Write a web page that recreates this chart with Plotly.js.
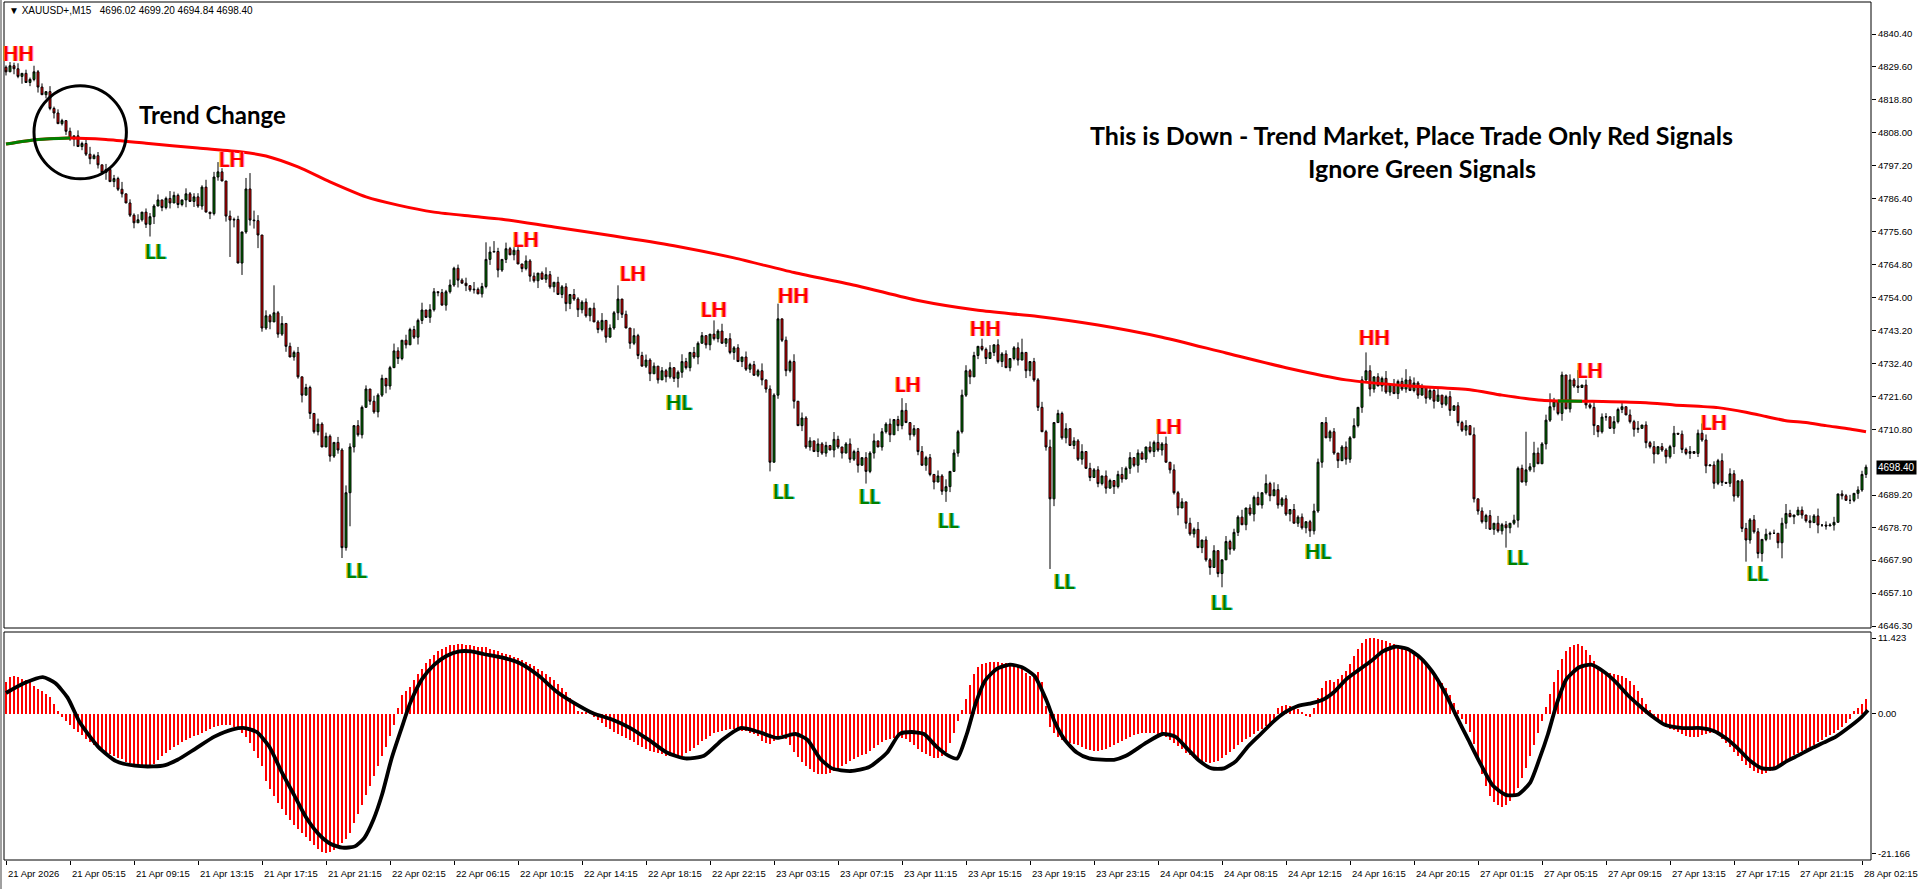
<!DOCTYPE html>
<html><head><meta charset="utf-8">
<script src="https://cdn.plot.ly/plotly-3.0.1.min.js"></script>
<style>html,body{margin:0;padding:0;background:#fff;overflow:hidden}#chart{width:1919px;height:889px}</style>
</head><body><div id="chart"></div>
<script>
// ---------------- DATA ----------------
const symbolHeader = "\u25BC XAUUSD+,M15\u00a0\u00a0 4696.02 4699.20 4694.84 4698.40";
const firstOpen = 4829.5;
const closes = [
4828.0,4830.0,4829.0,4826.5,4827.5,4824.5,4825.5,4828.0,4823.0,4820.5,
4821.5,4816.0,4814.5,4811.0,4812.0,4808.5,4806.0,4807.0,4803.5,4804.5,
4801.0,4799.5,4800.5,4797.5,4795.0,4796.0,4792.0,4793.0,4789.5,4788.0,
4785.0,4781.0,4778.5,4779.5,4782.0,4778.0,4780.5,4784.0,4786.0,4783.5,
4786.5,4785.0,4787.5,4784.5,4786.0,4788.0,4785.5,4787.0,4784.0,4790.2,
4782.0,4781.5,4793.5,4795.2,4792.2,4780.7,4779.4,4779.6,4765.3,4775.5,
4789.6,4779.4,4779.2,4774.5,4744.0,4748.0,4746.0,4749.0,4742.0,4745.5,
4738.0,4734.5,4736.0,4728.0,4722.0,4724.5,4716.0,4710.0,4712.5,4705.0,
4708.5,4702.0,4706.5,4704.0,4672.0,4690.0,4705.0,4712.0,4709.0,4718.0,
4724.0,4720.0,4716.5,4722.0,4727.5,4725.0,4731.0,4736.5,4734.0,4740.0,
4738.5,
4743.5,4741.0,4746.5,4749.9,4747.5,4750.0,4755.9,4755.6,4751.5,4755.9,
4758.1,4763.6,4759.7,4758.7,4757.9,4756.5,4756.7,4755.2,4757.6,4766.5,
4768.9,4769.1,4763.0,4766.5,4770.0,4768.0,4769.5,4765.0,4763.5,4766.0,
4761.0,4759.5,4762.0,4760.0,4761.5,4757.5,4759.0,4755.0,4757.5,4752.0,
4755.0,4753.5,4750.0,4752.5,4748.0,4750.5,4746.0,4743.5,4746.5,4741.0,
4744.0,4749.0,4753.5,4748.5,4744.0,4739.0,4741.5,4735.0,4731.5,4733.5,
4729.0,4731.5,4727.0,4730.0,4728.0,4731.0,4727.5,4729.5,4733.0,4731.0,
4736.0,4734.5,4739.0,4741.5,4738.5,4742.0,4740.5,4743.0,4739.0,4740.5,
4736.0,4737.5,4733.0,4734.5,4730.5,4732.0,4728.5,4730.0,4727.0,4724.0,
4700.0,4722.0,4747.0,4740.0,4730.0,4733.0,4720.0,4712.0,4714.5,4705.0,
4707.0,4703.5,4706.0,4703.0,4705.5,4704.0,4707.5,4705.0,4703.0,4706.0,
4701.0,4703.5,4699.0,4701.5,4697.0,4703.0,4707.0,4705.0,4710.0,4712.5,
4709.0,4714.0,4712.0,4717.0,4713.0,4709.0,4711.0,4703.5,4699.0,4701.5,
4696.0,4693.5,4695.5,4690.5,4692.0,4697.0,4703.0,4710.0,4722.0,4730.0,
4728.0,4735.0,4738.0,4737.0,4734.0,4736.0,4738.5,4733.0,4735.5,4731.0,
4734.0,4737.5,4733.5,4736.0,4730.0,4733.0,4727.0,4718.0,4710.0,4705.0,
4688.0,4713.0,4716.0,4708.0,4711.0,4705.5,4707.0,4701.0,4703.5,4698.0,
4695.0,4697.5,4693.0,4695.5,4691.5,4694.0,4692.0,4696.0,4694.5,4698.0,
4701.5,4699.0,4703.0,4701.0,4705.0,4703.5,4706.5,4704.0,4706.0,4700.0,
4697.5,4690.0,4685.0,4687.0,4680.0,4676.5,4678.0,4672.0,4674.5,4668.0,
4665.5,
4671.0,4663.5,4668.0,4674.0,4671.5,4677.0,4682.0,4679.5,4685.0,4683.0,
4688.5,4686.0,4690.0,4693.0,4689.0,4691.0,4686.0,4688.0,4683.0,4684.5,
4680.0,4682.0,4678.5,4680.5,4677.5,4684.0,4700.0,4713.0,4708.0,4710.0,
4703.0,4700.5,4705.0,4701.0,4708.0,4712.0,4718.0,4727.0,4730.0,4724.0,
4728.0,4725.0,4727.5,4723.0,4725.5,4722.5,4726.5,4724.0,4727.0,4723.5,
4726.0,4722.0,4724.5,4721.0,4723.5,4720.0,4722.0,4719.0,4721.5,4717.0,
4718.5,4713.0,4710.5,4712.0,4709.0,4688.0,4684.0,4680.5,4682.5,4678.0,
4680.0,4677.5,4679.5,4678.5,4680.0,4681.0,4698.0,4693.5,4697.5,4698.5,
4703.0,4699.5,4706.0,4713.8,4718.2,4719.9,4716.0,4728.6,4717.5,4727.0,
4725.0,4724.5,4725.3,4718.8,4718.0,4712.0,4710.0,4714.8,4714.9,4711.1,
4713.3,4717.3,4718.2,4715.5,4713.3,4710.8,4711.1,4712.2,4706.4,4705.1,
4702.7,4705.1,4704.0,4701.8,4705.1,4709.5,4709.2,4704.2,4702.9,4703.5,
4702.9,4709.5,4707.3,4698.8,4699.1,4693.1,4700.5,4693.4,4693.1,4696.2,
4688.9,4693.9,4678.3,4674.5,4681.1,4677.2,4670.1,4674.7,4676.4,4676.7,
4676.7,4673.6,4680.0,4683.2,4682.1,4682.7,4684.3,4682.7,4680.8,4680.2,
4682.4,4679.4,4679.4,4679.1,4679.4,4680.3,4689.6,4689.0,4687.5,4687.5,
4689.8,4690.9,4696.0,4698.4];

// wick sizes per bar, one digit per bar, in units of 0.6 price
const wickUp = "1213021412031210 2031241203121402 1302213014210312 2140312031201423 0312140213021031 2103142031203120 1420312140320213 0213041203120314 2031201420312031 1203140213020412 3120213014203120 0214031203121402 1302140312031204 2013120314021302 1402031203140213 3120214031201320 0213140213021403 1203102413021031 2140312031402130 0312140213021431 2031201420312013 1402130214031202 3120214013021304 0213041203120213 1302140312031402 2031203140213021 1402130213021403 2013142031203120 1203140213021302 21";
const wickDn = "2031402130213012 1402130214031201 3012140213021403 1203120314021302 2140213021403120 0312140312021314 2031201420312031 1403120213041203 0213140213020314 2130213014203120 1402031203121402 3120214031201320 0213140312031204 1302140213021403 2031203140213021 1402130213021304 3120214013021302 0213041203140213 1302140312031402 2031203140213021 1402130213021403 2013142031203120 1203140213021302 2140312031402130 0312140213021431 2031201420312013 1402130214031202 3120214013021304 0213041203120213 12";
const wickUnit = 0.6;
// notable highs / lows read directly
const hiBar = [2,7,52,53,60,61,62,67,112,120,122,125,127,153,177,193,224,244,254,288,315,340,350,380,382,386,389,393,424,437,445,448,465];
const hiVal = [4831.0,4830.0,4795.2,4798.4,4793.2,4794.8,4782.5,4758.0,4764.1,4772.1,4772.5,4772.0,4770.5,4758.0,4746.5,4752.0,4721.0,4740.5,4740.5,4709.5,4696.0,4736.0,4730.5,4710.0,4706.7,4722.6,4729.7,4730.2,4712.7,4682.7,4686.3,4685.4,4699.2];
const loBar = [36,56,59,62,63,84,85,86,140,168,191,215,235,261,304,326,375,397,412,415,435,438,439,443,444,453,458,465];
const loVal = [4774.0,4767.3,4761.4,4776.6,4770.2,4668.6,4671.0,4679.0,4749.5,4724.5,4697.0,4693.0,4687.0,4665.0,4659.0,4675.5,4672.0,4708.9,4699.6,4699.6,4667.4,4668.5,4667.4,4671.8,4668.5,4676.7,4682.0,4694.84];

// moving average (sampled along the curve)
const maBar = [0,8,16,25,35,48,59,65,73,81,90,98,107,116,124,137,152,167,182,197,213,228,243,258,273,289,305,320,335,351,366,374,384,388,394,399,410,417,428,435,440,445,450,455,461,465];
const maVal = [4804.3,4805.8,4806.3,4805.8,4804.6,4803.0,4801.7,4800.4,4796.8,4791.9,4787.0,4784.3,4782.0,4780.7,4779.7,4777.1,4774.2,4771.0,4767.0,4762.2,4757.8,4753.0,4749.8,4747.8,4745.0,4741.0,4735.8,4731.0,4727.0,4725.0,4723.8,4722.0,4720.3,4720.1,4720.0,4719.9,4719.5,4718.8,4717.9,4716.4,4715.0,4713.6,4713.0,4712.0,4710.9,4710.0];
const maGreenRanges = [[0,16],[388,394]];

// MACD histogram, one value per bar
const macdHist = [
4.7,5.5,5.7,5.5,5.2,5.1,4.7,4.1,3.7,3.4,3.0,2.45,1.5,0.4,
-0.6,-1.2,-1.8,-2.3,-2.8,-3.3,-3.8,-4.3,-4.7,-5.1,-5.5,-5.8,-6.1,-6.4,-6.7,-6.9,
-7.3,-7.5,-7.7,-7.9,-8.0,-8.0,-7.9,-7.6,-7.0,-6.4,-5.9,-5.5,-5.1,-4.7,-4.3,-4.0,
-3.7,-3.4,-3.2,-2.9,-2.6,-2.4,-2.1,-1.9,-1.8,-1.7,-1.8,-2.0,-2.3,-2.9,-3.6,-4.4,
-5.6,-6.8,-8.0,-10.2,-11.4,-12.5,-13.5,-14.4,-15.3,-16.1,-16.8,-17.5,-18.1,-18.7,-19.3,-19.9,
-20.5,-20.9,-21.166,-21.0,-20.7,-20.2,-19.6,-19.0,-18.0,-16.6,-15.2,-13.8,-12.4,-11.0,-9.5,-8.0,
-6.5,-5.0,-3.4,-1.8,0.9,2.8,
3.4,
4.0,5.1,6.0,6.8,7.6,8.3,8.9,9.4,9.8,10.1,10.3,10.4,10.5,10.5,10.4,10.3,10.2,10.1,10.0,10.0,
9.8,9.6,9.4,9.2,9.0,8.8,8.6,8.4,8.1,7.8,7.5,7.2,6.8,6.4,6.0,5.5,5.0,4.5,3.9,3.2,2.4,1.5,0.4,0.3,0.3,0.2,
-0.6,-1.0,-1.5,-2.0,-2.4,-2.8,-3.1,-3.4,-3.7,-4.0,-4.3,-4.7,-5.0,-5.3,-5.6,-5.8,-6.0,-6.2,-6.4,-6.5,
-6.6,-6.6,-6.4,-6.0,-5.6,-5.2,-4.7,-4.2,-3.8,-3.4,-3.0,-2.8,-2.6,-2.5,-2.4,-2.4,-2.5,-2.6,-2.7,-2.9,
-3.1,-3.4,-4.2,-4.5,-4.6,-4.2,-3.4,-3.2,-3.8,-4.8,-5.8,-6.6,-7.3,-7.9,-8.4,-8.8,-9.1,-9.2,-9.2,-9.0,
-8.7,-8.4,-8.0,-7.6,-7.2,-6.9,-6.6,-6.3,-6.1,-5.7,-5.2,-4.7,-4.3,-4.0,-3.8,-3.7,-3.6,-3.7,-3.9,-4.3,
-4.8,-5.3,-5.8,-6.2,-6.5,-6.7,-6.8,-6.5,-5.8,-4.5,-3.0,-1.2,
0.5,2.2,4.3,6.0,7.0,7.5,7.7,7.8,7.8,7.8,7.7,7.6,7.5,7.4,7.3,7.0,6.2,5.6,5.9,6.3,4.8,1.2,
-2.0,-3.0,-3.6,-4.0,-4.3,-4.5,-4.6,-4.8,-5.0,-5.3,-5.5,-5.6,-5.6,-5.5,-5.3,-5.0,-4.8,-4.5,-4.1,-3.8,
-3.5,-3.3,-3.1,-3.0,-2.9,-2.9,-3.0,-3.1,-3.3,-3.6,-4.0,-4.4,-4.9,-5.4,-5.9,-6.3,-6.7,-7.0,-7.2,-7.4,
-7.5,
-7.4,-7.2,-6.8,-6.3,-5.8,-5.3,-4.8,-4.3,-3.9,-3.5,-3.1,-2.7,-2.3,-1.9,-1.4,-0.9,
0.9,1.2,1.3,1.2,1.0,0.7,0.3,-0.4,-0.6,0.8,2.3,3.8,4.9,5.1,4.8,5.2,5.8,6.4,7.5,8.7,
9.8,10.6,11.2,11.423,11.4,11.3,11.1,10.9,10.7,10.5,10.2,9.9,9.6,9.3,8.9,8.5,8.0,7.4,6.8,6.1,
5.3,4.6,3.8,2.8,1.6,0.5,
-0.8,-1.6,-2.8,-4.6,-7.0,-9.2,-11.0,-12.5,-13.4,-13.9,-14.1,-13.9,-13.3,-12.4,-11.2,-9.8,-8.2,-6.5,-4.8,-3.0,-1.2,
1.0,2.9,4.7,6.6,8.2,9.4,10.1,10.4,10.5,10.2,9.6,8.8,7.9,7.1,6.6,6.3,6.2,6.0,5.9,5.7,5.4,4.9,4.3,3.4,2.4,1.4,0.6,
-0.6,-1.1,-1.6,-2.0,-2.3,-2.5,-2.8,-3.1,-3.4,-3.6,-3.6,-3.5,-3.3,-3.1,-3.0,-3.0,-3.3,-3.8,-4.4,-5.1,
-5.8,-6.5,-7.2,-7.8,-8.3,-8.7,-9.0,-9.1,-9.0,-8.7,-8.4,-8.0,-7.5,-7.1,-6.7,-6.3,-6.0,-5.6,-5.3,-5.0,
-4.7,-4.3,-4.0,-3.6,-3.3,-2.9,-2.5,-2.0,-1.5,-0.9,
0.4,0.9,1.5,2.2];

// MACD signal line (sampled along the curve)
const sigBar = [0,4.6,9.2,12.3,15.4,18.4,23.0,27.5,32.2,36.8,39.8,42.9,47.4,52.1,56.7,59.7,62.7,65.8,68.8,72.0,75.0,78.1,81.1,84.1,87.2,89.6,91.9,94.0,96.4,98.9,101.0,104.0,107.1,110.1,113.3,116.3,119.4,123.9,128.5,133.2,137.7,142.3,146.9,151.5,156.1,160.7,165.2,169.8,174.5,179.0,183.6,188.2,192.8,197.4,200.4,203.5,206.5,211.2,215.8,220.3,223.4,226.4,229.5,232.6,235.7,237.8,240.2,242.4,244.8,247.8,251.0,254.0,257.1,260.1,262.2,264.7,267.7,270.8,277.0,280.0,284.6,289.1,292.3,295.3,298.4,301.4,304.5,307.5,310.5,313.7,316.7,319.8,322.8,325.9,328.9,332.1,335.1,338.2,341.2,344.2,347.3,350.3,353.5,356.5,359.6,362.6,365.6,368.7,371.7,374.9,377.9,381.0,383.4,385.5,387.7,390.1,393.3,396.3,399.3,402.4,405.4,408.5,411.5,414.7,419.2,423.8,426.8,429.9,433.0,436.1,439.1,442.2,445.2,448.2,451.3,454.4,457.5,460.5,463.6,465.5];
const sigVal = [3.1,4.6,5.5,4.6,2.4,-1.3,-5.0,-7.2,-7.9,-8.0,-7.8,-7.0,-5.3,-3.5,-2.4,-2.2,-2.8,-5.0,-8.7,-12.3,-15.7,-18.2,-19.7,-20.3,-20.1,-18.8,-16.0,-12.3,-6.8,-2.2,1.5,5.2,7.4,8.7,9.4,9.4,9.0,8.5,7.6,5.7,3.3,1.5,0.0,-0.9,-2.2,-4.0,-5.9,-6.8,-6.4,-4.0,-2.2,-2.8,-3.7,-3.1,-4.0,-6.8,-8.3,-8.7,-8.1,-5.9,-3.1,-2.8,-3.1,-5.0,-6.4,-6.8,-3.1,1.5,5.0,6.8,7.4,7.0,5.7,2.0,-1.3,-4.0,-5.9,-6.8,-7.0,-6.4,-4.6,-3.1,-3.5,-5.3,-7.2,-8.3,-8.3,-7.2,-5.0,-3.1,-1.3,0.2,1.1,1.5,2.0,3.3,5.2,6.6,7.9,9.4,10.1,9.8,8.5,6.4,3.3,-0.4,-4.0,-7.7,-10.9,-12.3,-12.3,-10.5,-6.8,-3.1,1.5,5.2,7.0,7.4,6.4,4.8,2.8,1.1,-0.4,-1.7,-2.2,-2.2,-2.6,-3.7,-5.3,-7.2,-8.3,-8.3,-7.2,-6.3,-5.3,-4.4,-3.5,-2.2,-0.7,0.5];

// axis labels (4700.00 is hidden under the live-price box in the reference)
const priceTickText = ["4840.40","4829.60","4818.80","4808.00","4797.20","4786.40","4775.60","4764.80","4754.00","4743.20","4732.40","4721.60","4710.80","4689.20","4678.70","4667.90","4657.10","4646.30"];
const macdTickText = ["11.423","0.00","-21.166"];
const lastPrice = "4698.40";
const barsPerLabel = 16; // 4 hours of M15 bars
const timeLabels = ["21 Apr 2026","21 Apr 05:15","21 Apr 09:15","21 Apr 13:15","21 Apr 17:15","21 Apr 21:15","22 Apr 02:15","22 Apr 06:15","22 Apr 10:15","22 Apr 14:15","22 Apr 18:15","22 Apr 22:15","23 Apr 03:15","23 Apr 07:15","23 Apr 11:15","23 Apr 15:15","23 Apr 19:15","23 Apr 23:15","24 Apr 04:15","24 Apr 08:15","24 Apr 12:15","24 Apr 16:15","24 Apr 20:15","27 Apr 01:15","27 Apr 05:15","27 Apr 09:15","27 Apr 13:15","27 Apr 17:15","27 Apr 21:15","28 Apr 02:15"];

// swing labels
const swingText = ["HH","LH","LL","LL","LH","LH","HL","LH","HH","LL","LL","LH","LL","HH","LL","LH","LL","HL","HH","LL","LH","LH","LL"];
const swingBar  = [3.1,56.6,37.4,87.6,130.1,156.7,168.3,176.9,196.8,194.3,215.8,225.5,235.6,244.8,264.7,290.7,303.9,328.0,342.1,377.9,396.0,427.0,437.8];
const swingPrice= [4834.3,4799.4,4769.3,4664.7,4773.3,4762.1,4719.9,4750.4,4754.8,4690.6,4689.0,4725.5,4681.0,4744.0,4660.9,4711.9,4654.1,4670.9,4741.2,4668.8,4730.4,4713.3,4663.7];

const noteTrend = "Trend Change";
const noteLine1 = "This is Down - Trend Market, Place Trade Only Red Signals";
const noteLine2 = "Ignore Green Signals";
const circleBars = [7.0, 30.1];
const circlePrices = [4792.9, 4823.4];

// ---------------- BUILD ----------------
const n = closes.length;
const idx = closes.map((_, i) => i);
const opens = closes.map((c, i) => i === 0 ? firstOpen : closes[i - 1]);
const up = wickUp.replace(/\s/g, '').split('').map(Number);
const dn = wickDn.replace(/\s/g, '').split('').map(Number);
const highs = closes.map((c, i) => Math.max(c, opens[i]) + (up[i] || 0) * wickUnit);
const lows = closes.map((c, i) => Math.min(c, opens[i]) - (dn[i] || 0) * wickUnit);
hiBar.forEach((b, k) => { highs[b] = Math.max(hiVal[k], closes[b], opens[b]); });
loBar.forEach((b, k) => { lows[b] = Math.min(loVal[k], closes[b], opens[b]); });

const priceTicks = priceTickText.map(parseFloat);
const macdTicks = macdTickText.map(parseFloat);

const traces = [];
traces.push({
  type: 'candlestick', x: idx, open: opens, high: highs, low: lows, close: closes,
  increasing: {line: {color: '#000000', width: 1}, fillcolor: '#008000'},
  decreasing: {line: {color: '#000000', width: 1}, fillcolor: '#FF0000'},
  whiskerwidth: 0, hoverinfo: 'skip', xaxis: 'x', yaxis: 'y', showlegend: false
});
traces.push({
  type: 'scatter', mode: 'lines', x: maBar, y: maVal,
  line: {color: '#FF0000', width: 3, shape: 'spline', smoothing: 0.7},
  hoverinfo: 'skip', xaxis: 'x', yaxis: 'y', showlegend: false
});
maGreenRanges.forEach(([a, b]) => {
  const xs = [], ys = [];
  maBar.forEach((bb, k) => { if (bb >= a && bb <= b) { xs.push(bb); ys.push(maVal[k]); } });
  traces.push({
    type: 'scatter', mode: 'lines', x: xs, y: ys,
    line: {color: '#008000', width: 3, shape: 'spline', smoothing: 0.7},
    hoverinfo: 'skip', xaxis: 'x', yaxis: 'y', showlegend: false
  });
});
traces.push({
  type: 'bar', x: idx, y: macdHist, width: 0.68,
  marker: {color: '#FF0000', line: {width: 0}},
  hoverinfo: 'skip', xaxis: 'x', yaxis: 'y2', showlegend: false
});
traces.push({
  type: 'scatter', mode: 'lines', x: sigBar, y: sigVal,
  line: {color: '#000000', width: 3.8, shape: 'spline', smoothing: 0.6},
  hoverinfo: 'skip', xaxis: 'x', yaxis: 'y2', showlegend: false
});

// pixel geometry of the MT4 window
const W = 1919, H = 889, L = 4, R = 48, T = 2, B = 29;
const plotW = W - L - R, plotH = H - T - B;
const px = ox => (ox - L) / plotW;
const py = oy => (H - B - oy) / plotH;
const mainBottom = py(628), macdTop = py(632);

const annotations = [];
annotations.push({xref: 'paper', yref: 'paper', x: px(7), y: py(10), xanchor: 'left', yanchor: 'middle',
  text: symbolHeader, showarrow: false, font: {family: 'Liberation Sans, Arial, sans-serif', size: 10, color: '#000'}});
annotations.push({xref: 'paper', yref: 'paper', x: px(137), y: py(114), xanchor: 'left', yanchor: 'middle',
  text: '<b>' + noteTrend + '</b>', showarrow: false, font: {family: 'Lato, sans-serif', size: 24, color: '#000'}});
annotations.push({xref: 'paper', yref: 'paper', x: px(1411), y: py(135), xanchor: 'center', yanchor: 'middle',
  text: '<b>' + noteLine1 + '</b>', showarrow: false, font: {family: 'Lato, sans-serif', size: 25, color: '#000'}});
annotations.push({xref: 'paper', yref: 'paper', x: px(1422), y: py(168), xanchor: 'center', yanchor: 'middle',
  text: '<b>' + noteLine2 + '</b>', showarrow: false, font: {family: 'Lato, sans-serif', size: 25, color: '#000'}});

swingText.forEach((t, k) => {
  const isHigh = t.endsWith('H');
  const main = isHigh ? '#FF0000' : '#008000';
  const left = isHigh ? '#FF9A30' : '#D8B000';
  const right = isHigh ? '#FF8FC8' : '#30D8E8';
  [[left, -1], [right, 1], [main, 0]].forEach(([c, s]) => {
    annotations.push({xref: 'x', yref: 'y', x: swingBar[k], y: swingPrice[k], xshift: s,
      xanchor: 'center', yanchor: 'middle', text: '<b>' + t + '</b>', showarrow: false,
      font: {family: 'Lato, sans-serif', size: 20, color: c}});
  });
});

timeLabels.forEach((t, k) => {
  annotations.push({xref: 'x', yref: 'paper', x: k * barsPerLabel, y: py(873), xshift: 0,
    xanchor: 'left', yanchor: 'middle', text: t, showarrow: false,
    font: {family: 'Liberation Sans, Arial, sans-serif', size: 9.5, color: '#000'}});
});

annotations.push({xref: 'paper', yref: 'y', x: px(1876), y: parseFloat(lastPrice), xanchor: 'left', yanchor: 'middle',
  text: lastPrice, showarrow: false, bgcolor: '#000000', borderpad: 1,
  font: {family: 'Liberation Sans, Arial, sans-serif', size: 10, color: '#FFFFFF'}});

const shapes = [
  {type: 'rect', xref: 'paper', yref: 'paper', x0: 0, x1: 1, y0: mainBottom, y1: 1, line: {color: '#000', width: 1}},
  {type: 'rect', xref: 'paper', yref: 'paper', x0: 0, x1: 1, y0: 0, y1: macdTop, line: {color: '#000', width: 1}},
  {type: 'line', xref: 'paper', yref: 'paper', x0: px(1), x1: px(1), y0: py(0), y1: py(889), line: {color: '#A0A0A0', width: 2}},
  {type: 'circle', xref: 'x', yref: 'y', x0: circleBars[0], x1: circleBars[1], y0: circlePrices[0], y1: circlePrices[1],
    line: {color: '#000', width: 3}}
];

const layout = {
  width: W, height: H,
  margin: {l: L, r: R, t: T, b: B, pad: 0},
  paper_bgcolor: '#FFFFFF', plot_bgcolor: '#FFFFFF',
  showlegend: false, hovermode: false, dragmode: false,
  font: {family: 'Liberation Sans, Arial, sans-serif', size: 10, color: '#000'},
  xaxis: {range: [-0.5, 466.25], anchor: 'y2', showgrid: false, zeroline: false, showline: false,
    tickmode: 'array', tickvals: timeLabels.map((_, k) => k * barsPerLabel), ticks: 'outside', ticklen: 4,
    tickcolor: '#000', showticklabels: false, rangeslider: {visible: false}, fixedrange: true},
  yaxis: {domain: [mainBottom, 1], range: [4645.65, 4850.89], side: 'right', showgrid: false, zeroline: false,
    showline: false, tickmode: 'array', tickvals: priceTicks, ticktext: priceTickText, ticks: 'outside',
    ticklen: 4, tickcolor: '#000', tickfont: {family: 'Liberation Sans, Arial, sans-serif', size: 9.5, color: '#000'},
    fixedrange: true, automargin: false},
  yaxis2: {domain: [0, macdTop], range: [-22.16, 12.33], side: 'right', showgrid: false, zeroline: false,
    showline: false, tickmode: 'array', tickvals: macdTicks, ticktext: macdTickText, ticks: 'outside',
    ticklen: 4, tickcolor: '#000', tickfont: {family: 'Liberation Sans, Arial, sans-serif', size: 9.5, color: '#000'},
    fixedrange: true, automargin: false},
  bargap: 0,
  annotations: annotations,
  shapes: shapes
};

Plotly.newPlot('chart', traces, layout, {staticPlot: true, displayModeBar: false, responsive: false});
</script>
</body></html>
